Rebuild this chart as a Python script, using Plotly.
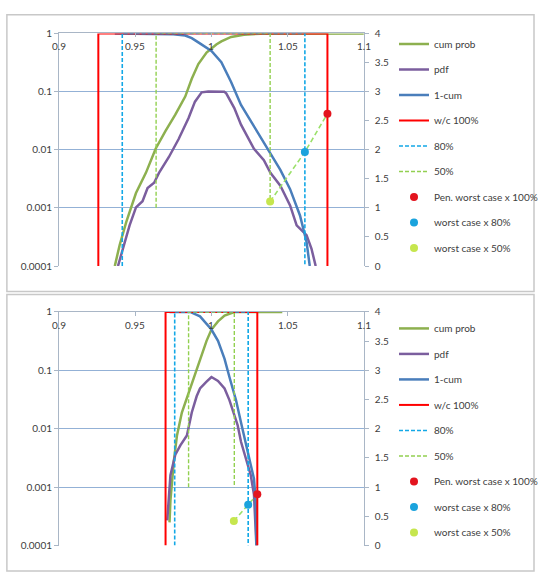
import plotly.graph_objects as go

W, H = 543, 577

# ---------------- Top panel data ----------------
A_cum_x = [0.9366, 0.9398, 0.9441, 0.9505, 0.9570, 0.9634, 0.9699, 0.9763, 0.9828, 0.9871,
           0.9914, 0.9968, 1.0032, 1.0065, 1.0129, 1.0213, 1.0323, 1.1]
A_cum_y = [1e-4, 2.3e-4, 5.7e-4, 1.8e-3, 4.0e-3, 0.0104, 0.021, 0.040, 0.082, 0.166,
           0.297, 0.467, 0.645, 0.73, 0.87, 0.95, 0.99, 1.0]

A_pdf_x = [0.9387, 0.9430, 0.9463, 0.9505, 0.9548, 0.9581, 0.9624, 0.9656, 0.9721, 0.9785,
           0.9850, 0.9892, 0.9936, 0.9979, 1.0032, 1.0084, 1.0097, 1.0150, 1.0194, 1.0237,
           1.0279, 1.0344, 1.0387, 1.0452, 1.0516, 1.0559, 1.0624, 1.0656, 1.0684]
A_pdf_y = [1e-4, 2.6e-4, 5.0e-4, 1.02e-3, 1.3e-3, 2.2e-3, 2.7e-3, 4.0e-3, 7.5e-3, 0.0153,
           0.035, 0.067, 0.097, 0.1, 0.1, 0.099, 0.093, 0.052, 0.027, 0.0163,
           0.0104, 0.0066, 0.004, 0.0024, 0.0011, 5.0e-4, 3.4e-4, 2.0e-4, 1e-4]

A_1cum_x = [0.9366, 0.9634, 0.9750, 0.9828, 0.9871, 0.9914, 0.9968, 1.0, 1.0065, 1.0129,
            1.0194, 1.0258, 1.0323, 1.0387, 1.0452, 1.0516, 1.0581, 1.0624, 1.0645]
A_1cum_y = [1.0, 0.99, 0.97, 0.92, 0.83, 0.70, 0.56, 0.5, 0.32, 0.146,
            0.059, 0.031, 0.0163, 0.0086, 0.0045, 0.0021, 7.4e-4, 2.6e-4, 1e-4]

A_wc100_x = [0.9258, 0.9258, 1.0761, 1.0761]
A_wc100_y = [0, 4, 4, 0]
A_80_x = [0.9415, 0.9415, 1.0613, 1.0613]
A_80_y = [0, 4, 4, 0]
A_50_x = [0.9637, 0.9637, 1.0385, 1.0385]
A_50_y = [1, 4, 4, 1]

A_pen_x, A_pen_y = [1.0761], [2.62]
A_w80_x, A_w80_y = [1.0613], [1.96]
A_w50_x, A_w50_y = [1.0385], [1.11]

# ---------------- Bottom panel data ----------------
B_cum_x = [0.9725, 0.9731, 0.9753, 0.9774, 0.9806, 0.9850, 0.9892, 0.9935, 0.9968, 1.0,
           1.0043, 1.0086, 1.0150, 1.0465]
B_cum_y = [2.5e-4, 5.9e-4, 2.75e-3, 7.7e-3, 0.019, 0.041, 0.089, 0.19, 0.32, 0.5,
           0.69, 0.87, 1.0, 1.0]

B_pdf_x = [0.9710, 0.9731, 0.9763, 0.9796, 0.9839, 0.9850, 0.9871, 0.9903, 0.9925, 0.9968,
           1.0, 1.0043, 1.0086, 1.0118, 1.0150, 1.0172, 1.0194, 1.0226, 1.0258, 1.0279, 1.0295]
B_pdf_y = [2.7e-4, 1.6e-3, 3.6e-3, 5.2e-3, 7.7e-3, 0.0105, 0.019, 0.036, 0.049, 0.064,
           0.077, 0.066, 0.049, 0.031, 0.0177, 0.0115, 0.006, 0.0031, 0.0016, 7.5e-4, 1e-4]

B_1cum_x = [0.9725, 0.9860, 0.9925, 1.0, 1.0043, 1.0086, 1.0118, 1.0161, 1.0194, 1.0226,
            1.0258, 1.0279, 1.0290, 1.0295]
B_1cum_y = [1.0, 1.0, 0.84, 0.5, 0.32, 0.157, 0.077, 0.031, 0.0128, 0.0052,
            0.0024, 0.0014, 5.9e-4, 1e-4]

B_wc100_x = [0.9699, 0.9699, 1.0301, 1.0301]
B_wc100_y = [0, 4, 4, 0]
B_80_x = [0.9759, 0.9759, 1.0241, 1.0241]
B_80_y = [0, 4, 4, 0]
B_50_x = [0.9850, 0.9850, 1.0150, 1.0150]
B_50_y = [1, 4, 4, 1]

B_pen_x, B_pen_y = [1.0301], [0.88]
B_w80_x, B_w80_y = [1.0241], [0.70]
B_w50_x, B_w50_y = [1.0147], [0.42]

# ---------------- Axis ticks ----------------
xticks = [0.9, 0.95, 1.0, 1.05, 1.1]
xtext = ["0.9", "0.95", "1", "1.05", "1.1"]
ylogv = [1e-4, 1e-3, 1e-2, 1e-1, 1]
ylogt = ["0.0001", "0.001", "0.01", "0.1", "1"]
yr = [0, 0.5, 1, 1.5, 2, 2.5, 3, 3.5, 4]
yrt = ["0", "0.5", "1", "1.5", "2", "2.5", "3", "3.5", "4"]

# ---------------- Styles ----------------
C_CUM = "#8DB04F"
C_PDF = "#7B5E9E"
C_1CUM = "#4A7EBB"
C_RED = "#FF0000"
C_80 = "#13A8E6"
C_50 = "#92D050"
C_PEN = "#E3141E"
C_W80 = "#1AA3DD"
C_W50 = "#C6E64E"
C_LINK = "#9BE06A"
GRID = "#93B1D6"
AXIS = "#A9B6C6"
TXT = "#404040"
FONT = "Lato"

fig = go.Figure()


def add_panel(xa, ya, ya2, lg, d):
    (cx, cy, px_, py_, ux, uy, rx, ry, bx, by, gx, gy,
     pnx, pny, w8x, w8y, w5x, w5y) = d
    common = dict(mode="lines", xaxis=xa, cliponaxis=False, legend=lg, hoverinfo="skip")
    fig.add_trace(go.Scatter(x=cx, y=cy, yaxis=ya, name="cum prob", legendgroup=lg + "a",
                             line=dict(color=C_CUM, width=2.5), **common))
    fig.add_trace(go.Scatter(x=px_, y=py_, yaxis=ya, name="pdf", legendgroup=lg + "b",
                             line=dict(color=C_PDF, width=2.5), **common))
    fig.add_trace(go.Scatter(x=ux, y=uy, yaxis=ya, name="1-cum", legendgroup=lg + "c",
                             line=dict(color=C_1CUM, width=2.5), **common))
    fig.add_trace(go.Scatter(x=rx, y=ry, yaxis=ya2, name="w/c 100%", legendgroup=lg + "d",
                             line=dict(color=C_RED, width=2), **common))
    fig.add_trace(go.Scatter(x=bx, y=by, yaxis=ya2, name="80%", legendgroup=lg + "e",
                             line=dict(color=C_80, width=1.6, dash="4px,2px"), **common))
    fig.add_trace(go.Scatter(x=gx, y=gy, yaxis=ya2, name="50%", legendgroup=lg + "f",
                             line=dict(color=C_50, width=1.4, dash="4px,2px"), **common))
    fig.add_trace(go.Scatter(x=w5x + w8x + pnx, y=w5y + w8y + pny, yaxis=ya2, showlegend=False,
                             line=dict(color=C_LINK, width=1.6, dash="5px,3px"), **common))
    mk = dict(mode="markers", xaxis=xa, yaxis=ya2, cliponaxis=False, legend=lg, hoverinfo="skip")
    fig.add_trace(go.Scatter(x=pnx, y=pny, name="Pen. worst case x 100%", legendgroup=lg + "g",
                             marker=dict(color=C_PEN, size=8), **mk))
    fig.add_trace(go.Scatter(x=w8x, y=w8y, name="worst case x 80%", legendgroup=lg + "h",
                             marker=dict(color=C_W80, size=8), **mk))
    fig.add_trace(go.Scatter(x=w5x, y=w5y, name="worst case x 50%", legendgroup=lg + "i",
                             marker=dict(color=C_W50, size=8), **mk))


add_panel("x", "y", "y2", "legend",
          (A_cum_x, A_cum_y, A_pdf_x, A_pdf_y, A_1cum_x, A_1cum_y, A_wc100_x, A_wc100_y,
           A_80_x, A_80_y, A_50_x, A_50_y, A_pen_x, A_pen_y, A_w80_x, A_w80_y, A_w50_x, A_w50_y))
add_panel("x2", "y3", "y4", "legend2",
          (B_cum_x, B_cum_y, B_pdf_x, B_pdf_y, B_1cum_x, B_1cum_y, B_wc100_x, B_wc100_y,
           B_80_x, B_80_y, B_50_x, B_50_y, B_pen_x, B_pen_y, B_w80_x, B_w80_y, B_w50_x, B_w50_y))

xdom = [60 / W, 370 / W]
ydomA = [1 - 265 / H, 1 - 27 / H]
ydomB = [1 - 551 / H, 1 - 312 / H]

tf = dict(family=FONT, size=10, color=TXT)


def xaxis_cfg(anchor):
    return dict(domain=xdom, range=[0.9, 1.1], anchor=anchor, side="top",
                ticks="inside", ticklen=4, tickcolor=AXIS,
                tickvals=xticks, showticklabels=False, showgrid=False, zeroline=False,
                showline=True, linecolor=AXIS, linewidth=1)


def ylog_cfg(dom, anchor):
    return dict(domain=dom, type="log", range=[-4, 0], anchor=anchor,
                tickvals=ylogv, ticktext=ylogt, ticks="outside", ticklen=4, tickcolor=AXIS,
                showgrid=True, gridcolor=GRID, gridwidth=1, showline=True, linecolor=AXIS,
                zeroline=False, tickfont=tf, ticklabeloverflow="allow")


def ylin_cfg(over, anchor):
    return dict(overlaying=over, side="right", range=[0, 4], anchor=anchor,
                tickvals=yr, ticktext=yrt, ticks="outside", ticklen=4, tickcolor=AXIS,
                showgrid=False, showline=True, linecolor=AXIS, zeroline=False, tickfont=tf,
                ticklabelstandoff=4, ticklabeloverflow="allow")


annotations = []
for xr, ytop in (("x", 27), ("x2", 312)):
    for v, t in zip(xticks, xtext):
        annotations.append(dict(x=v, y=1 - (ytop + 13) / H, xref=xr, yref="paper", text=t,
                                showarrow=False, xanchor="center", yanchor="middle",
                                font=tf))

leg = dict(font=dict(family=FONT, size=10, color=TXT), bgcolor="rgba(0,0,0,0)",
           xanchor="left", yanchor="top", traceorder="grouped", tracegroupgap=6.5,
           itemwidth=30)

fig.update_layout(
    width=W, height=H, margin=dict(l=0, r=0, t=0, b=0),
    paper_bgcolor="white", plot_bgcolor="white",
    showlegend=True,
    xaxis=xaxis_cfg("y"), yaxis=ylog_cfg(ydomA, "x"), yaxis2=ylin_cfg("y", "x"),
    xaxis2=xaxis_cfg("y3"), yaxis3=ylog_cfg(ydomB, "x2"), yaxis4=ylin_cfg("y3", "x2"),
    legend=dict(x=401 / W, y=1 - 23 / H, **leg),
    legend2=dict(x=401 / W, y=1 - 314 / H, **leg),
    annotations=annotations,
    shapes=[
        dict(type="rect", xref="paper", yref="paper", x0=7 / W, x1=1.0, y0=1 - 291 / H, y1=1 - 8 / H,
             line=dict(color="#C8C8C8", width=1.5)),
        dict(type="rect", xref="paper", yref="paper", x0=7 / W, x1=1.0, y0=0.0, y1=1 - 294 / H,
             line=dict(color="#C8C8C8", width=1.5)),
    ],
)

fig.write_html("out.html", config={"displayModeBar": False},
               post_script="document.body.style.margin='0';document.body.style.overflow='hidden';")
